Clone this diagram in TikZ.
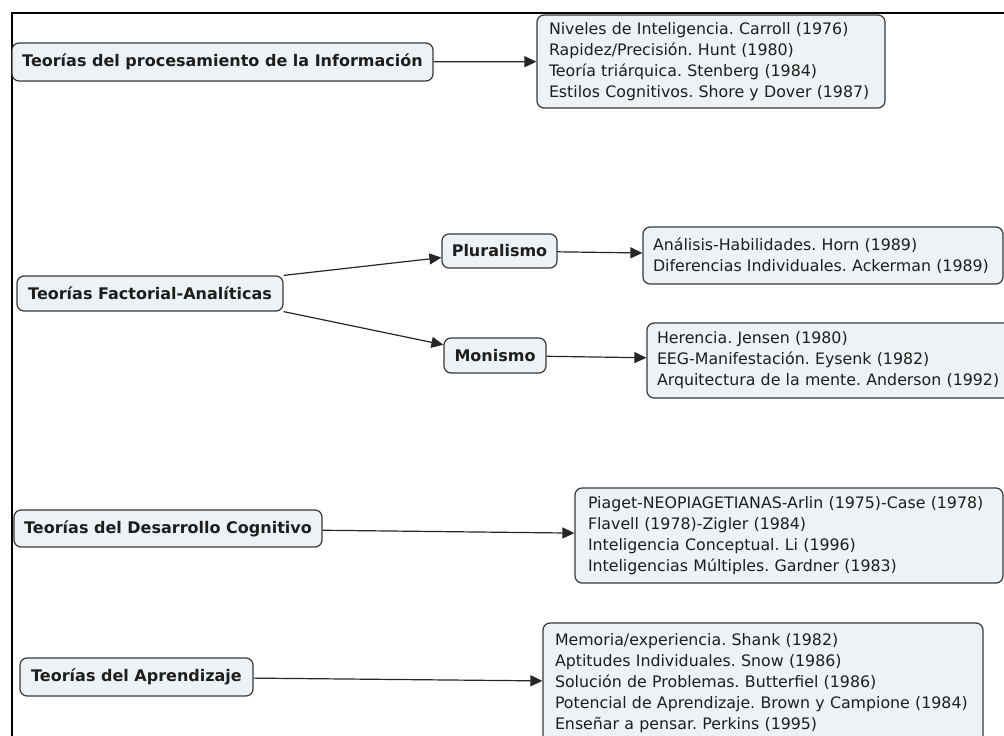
\documentclass[tikz,border=0pt]{standalone}
\usepackage{fontspec}
\setmainfont{DejaVu Sans}
\usetikzlibrary{arrows.meta}
\definecolor{boxfill}{RGB}{236,242,245}
\definecolor{boxline}{RGB}{55,55,55}
\definecolor{inktext}{RGB}{30,30,30}
\frenchspacing
% one unbreakable line of a reference list
\newcommand{\refline}[1]{\mbox{#1}}
\begin{document}
\begin{tikzpicture}[x=1pt,y=-1pt,
  concept/.style={draw=boxline, fill=boxfill, line width=1.2pt, rounded corners=7pt,
    inner sep=0pt, text=inktext, font=\bfseries\fontsize{16}{19}\selectfont},
  refs/.style={draw=boxline, fill=boxfill, line width=1.2pt, rounded corners=7pt,
    inner ysep=0pt, text=inktext, align=left, font=\fontsize{15.8}{21}\selectfont},
  link/.style={draw=black!85, line width=1.2pt, -{Triangle[length=12pt,width=11pt]}}]
\useasboundingbox (0,0) rectangle (1004,736);
\clip (0,0) rectangle (1004,736);

% outer frame
\draw[line width=2pt, black] (11.5,736) -- (11.5,12.5) -- (1004,12.5);

% main theory nodes
\node[concept, minimum width=421pt, minimum height=38pt] (proc) at (222.5,62)
  {Teorías del procesamiento de la Información};
\node[concept, minimum width=266pt, minimum height=35pt] (fa) at (150,293.5)
  {Teorías Factorial-Analíticas};
\node[concept, minimum width=115pt, minimum height=34pt] (plur) at (499.5,251)
  {Pluralismo};
\node[concept, minimum width=102pt, minimum height=35pt] (mon) at (495,355.5)
  {Monismo};
\node[concept, minimum width=308pt, minimum height=37pt] (des) at (168,528.5)
  {Teorías del Desarrollo Cognitivo};
\node[concept, minimum width=233pt, minimum height=38pt] (apr) at (136.5,677)
  {Teorías del Aprendizaje};

% reference lists
\node[refs, inner xsep=12pt, text width=324pt, minimum height=93pt] (l1) at (711,61.5)
  {\refline{Niveles de Inteligencia. Carroll (1976)}\\
   \refline{Rapidez/Precisión. Hunt (1980)}\\
   \refline{Teoría triárquica. Stenberg (1984)}\\
   \refline{Estilos Cognitivos. Shore y Dover (1987)}};
\node[refs, inner xsep=10pt, text width=340pt, minimum height=57pt] (l2) at (823,255.5)
  {\refline{Análisis-Habilidades. Horn (1989)}\\
   \refline{Diferencias Individuales. Ackerman (1989)}};
\node[refs, inner xsep=10pt, text width=345pt, minimum height=75pt] (l3) at (829.5,360.5)
  {\refline{Herencia. Jensen (1980)}\\
   \refline{EEG-Manifestación. Eysenk (1982)}\\
   \refline{Arquitectura de la mente. Anderson (1992)}};
\node[refs, inner xsep=13pt, text width=402pt, minimum height=95pt] (l4) at (789,535.5)
  {\refline{Piaget-NEOPIAGETIANAS-Arlin (1975)-Case (1978)}\\
   \refline{Flavell (1978)-Zigler (1984)}\\
   \refline{Inteligencia Conceptual. Li (1996)}\\
   \refline{Inteligencias Múltiples. Gardner (1983)}};
\node[refs, inner xsep=12pt, text width=416pt, minimum height=120pt] (l5) at (763,683)
  {\refline{Memoria/experiencia. Shank (1982)}\\
   \refline{Aptitudes Individuales. Snow (1986)}\\
   \refline{Solución de Problemas. Butterfiel (1986)}\\
   \refline{Potencial de Aprendizaje. Brown y Campione (1984)}\\
   \refline{Enseñar a pensar. Perkins (1995)}};

% connectors
\draw[link] (proc) -- (l1);
\draw[link] (fa.north east) -- (plur);
\draw[link] (fa.south east) -- (mon);
\draw[link] (plur) -- (l2);
\draw[link] (mon) -- (l3);
\draw[link] (des) -- (l4);
\draw[link] (apr) -- (l5);
\end{tikzpicture}
\end{document}
